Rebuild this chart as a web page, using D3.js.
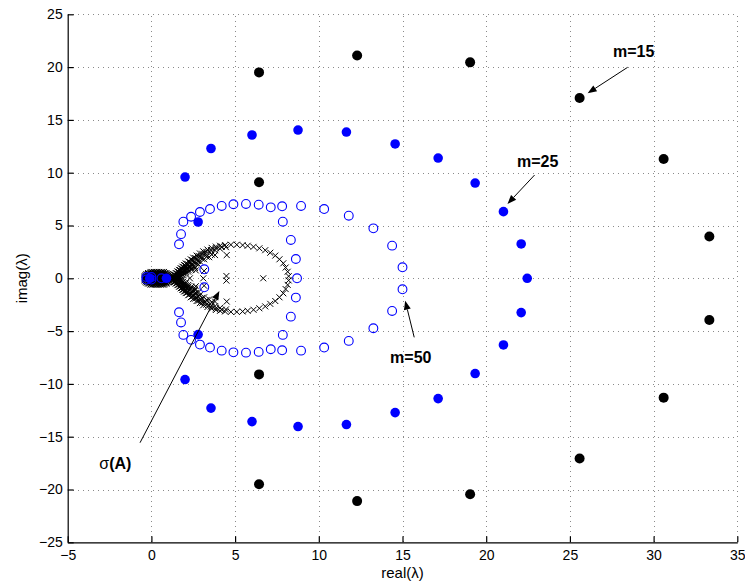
<!DOCTYPE html>
<html>
<head>
<meta charset="utf-8">
<script src="https://cdn.jsdelivr.net/npm/d3@7"></script>
<style>
  html, body { margin: 0; padding: 0; background: #fff; }
  svg { display: block; font-family: "Liberation Sans", Arial, Helvetica, sans-serif; }
</style>
</head>
<body>
<svg id="chart" width="745" height="584"></svg>
<script>
// Axis ticks
const xTicks = [-5, 0, 5, 10, 15, 20, 25, 30, 35];
const yTicks = [-25, -20, -15, -10, -5, 0, 5, 10, 15, 20, 25];

// A is real, so its eigenvalues and Ritz values come in conjugate pairs:
// each value below (Im >= 0) is drawn together with its conjugate.

// Ritz values, m = 15 (black dots)
const ritz15Re = [6.43, 12.29, 19.04, 25.58, 30.60, 33.33, 6.43, 0.30];
const ritz15Im = [19.50, 21.10, 20.45, 17.07, 11.30, 3.95, 9.10, 0.00];

// Ritz values, m = 25 (blue dots)
const ritz25Re = [2.01, 3.56, 6.01, 8.76, 11.65, 14.56, 17.13, 19.34, 21.03, 22.09, 22.45, 2.79, -0.10, 0.90];
const ritz25Im = [9.59, 12.29, 13.57, 14.04, 13.85, 12.72, 11.39, 9.02, 6.31, 3.25, 0.00, 5.33, 0.00, 0.00];

// Ritz values, m = 50 (blue circles)
const ritz50Re = [1.91, 1.77, 1.65, 2.37, 2.90, 3.50, 4.20, 4.90, 5.65, 6.41, 7.13, 7.81, 7.85, 8.33, 8.63, 8.70,
                  8.94, 10.32, 11.79, 13.26, 14.38, 15.00, 3.16, -0.30, 0.00, 0.60];
const ritz50Im = [5.36, 4.18, 3.22, 5.83, 6.28, 6.56, 6.85, 7.01, 7.04, 6.97, 6.72, 6.82, 5.36, 3.63, 1.83, 0.00,
                  6.85, 6.56, 5.93, 4.73, 3.09, 1.04, 0.85, 0.12, 0.12, 0.00];

// Spectrum of A (crosses)
const sigmaRe = [
  // outer boundary
  1.25, 1.35, 1.45, 1.55, 1.65, 1.75, 1.85, 1.95, 2.05, 2.20, 2.35, 2.50, 2.70, 2.90, 3.10, 3.35, 3.60,
  3.85, 4.10, 4.40, 4.75, 5.10, 5.45, 5.75, 6.10, 6.45, 6.80, 7.10, 7.40, 7.65, 7.88, 8.02, 8.14, 8.20,
  // inner branches near the cusp
  1.32, 1.42, 1.52, 1.62, 1.72, 1.82, 1.92, 2.02, 2.14, 2.28, 2.44, 2.62, 2.82, 3.04, 3.28, 3.55, 3.85, 4.20,
  1.35, 1.45, 1.55, 1.65, 1.75, 1.85, 1.95, 2.07, 2.20, 2.35, 2.52, 2.72, 2.95, 3.20, 3.50, 3.80, 4.10, 4.45,
  1.45, 1.55, 1.65, 1.75, 1.85, 1.96, 2.08, 2.22, 2.38, 2.57, 2.78, 3.02, 3.30, 3.60,
  1.50, 1.60, 1.70, 1.80, 1.90, 2.02, 2.15, 2.30, 2.47, 2.67, 2.90, 3.15, 3.45, 3.80,
  1.58, 1.69, 1.80, 1.92, 2.06, 2.22, 2.40, 2.60, 2.82,
  1.65, 1.78, 1.90, 2.05, 2.20, 2.38, 2.60,
  // isolated interior eigenvalues
  2.30, 2.65, 3.10, 3.15, 4.48, 4.50, 6.68,
  // cluster at the origin
  -0.40, -0.30, -0.20, -0.10, 0.00, 0.10, 0.20, 0.30, 0.40, 0.50, 0.60, 0.70, 0.80, 0.90, 1.00, 1.10,
  -0.40, -0.30, -0.20, -0.10, 0.00, 0.10, 0.20, 0.30, 0.40, 0.50, 0.60, 0.70, 0.80, 0.90, 1.00, 1.10,
  -0.40, -0.30, -0.20, -0.10, 0.00, 0.10, 0.20, 0.30, 0.40, 0.50, 0.60, 0.70, 0.80, 0.90, 1.00, 1.10,
  -0.35, -0.25, -0.15, -0.05, 0.05, 0.15, 0.25, 0.35, 0.45, 0.55, 0.65, 0.75, 0.85, 0.95, 1.05,
  -0.30, -0.20, -0.10, 0.00, 0.10, 0.20, 0.30, 0.40, 0.50, 0.60, 0.70, 0.80, 0.90, 1.00,
  -0.20, -0.10, 0.00, 0.10, 0.20, 0.30, 0.40, 0.50, 0.60, 0.70, 0.80, 0.90,
  -0.05, 0.05, 0.15, 0.25, 0.35, 0.45, 0.55, 0.65, 0.75
];
const sigmaIm = [
  0.15, 0.35, 0.50, 0.65, 0.80, 0.95, 1.10, 1.25, 1.40, 1.60, 1.80, 1.95, 2.15, 2.35, 2.55, 2.72, 2.88,
  3.00, 3.08, 3.14, 3.18, 3.18, 3.14, 3.08, 2.98, 2.84, 2.66, 2.42, 2.15, 1.80, 1.42, 1.02, 0.62, 0.20,
  0.18, 0.33, 0.47, 0.62, 0.77, 0.92, 1.07, 1.22, 1.37, 1.55, 1.73, 1.92, 2.12, 2.32, 2.50, 2.68, 2.84, 2.98,
  0.10, 0.25, 0.40, 0.55, 0.70, 0.85, 1.00, 1.15, 1.30, 1.47, 1.65, 1.85, 2.05, 2.25, 2.45, 2.65, 2.80, 2.95,
  0.08, 0.22, 0.37, 0.51, 0.66, 0.81, 0.96, 1.11, 1.28, 1.46, 1.65, 1.85, 2.05, 2.25,
  0.08, 0.20, 0.33, 0.46, 0.60, 0.75, 0.90, 1.05, 1.22, 1.40, 1.60, 1.80, 2.00, 2.20,
  0.06, 0.19, 0.32, 0.47, 0.62, 0.78, 0.94, 1.12, 1.30,
  0.05, 0.18, 0.32, 0.48, 0.63, 0.80, 0.98,
  0.00, 0.75, 0.00, 0.70, 0.22, 2.20, 0.00,
  0.00, 0.00, 0.00, 0.00, 0.00, 0.00, 0.00, 0.00, 0.00, 0.00, 0.00, 0.00, 0.00, 0.00, 0.00, 0.00,
  0.10, 0.10, 0.10, 0.10, 0.10, 0.10, 0.10, 0.10, 0.10, 0.10, 0.10, 0.10, 0.10, 0.10, 0.10, 0.10,
  0.20, 0.20, 0.20, 0.20, 0.20, 0.20, 0.20, 0.20, 0.20, 0.20, 0.20, 0.20, 0.20, 0.20, 0.20, 0.20,
  0.30, 0.30, 0.30, 0.30, 0.30, 0.30, 0.30, 0.30, 0.30, 0.30, 0.30, 0.30, 0.30, 0.30, 0.30,
  0.40, 0.40, 0.40, 0.40, 0.40, 0.40, 0.40, 0.40, 0.40, 0.40, 0.40, 0.40, 0.40, 0.40,
  0.50, 0.50, 0.50, 0.50, 0.50, 0.50, 0.50, 0.50, 0.50, 0.50, 0.50, 0.50,
  0.60, 0.60, 0.60, 0.60, 0.60, 0.60, 0.60, 0.60, 0.60
];

// Annotation labels and arrows (data coordinates)
const notes = [
  { text: "m=15", tx: 27.57, ty: 20.98, from: [28.45, 19.98], to: [26.06, 17.52] },
  { text: "m=25", tx: 21.84, ty: 10.57, from: [22.89, 9.78],  to: [21.27, 7.04] },
  { text: "m=50", tx: 14.26, ty: -7.99, from: [15.70, -5.59], to: [15.16, -2.12] },
  { text: "σ(A)", tx: -3.11, ty: -18.09, from: [-0.68, -15.57], to: [4.06, -1.20] }
];

const svg = d3.select("#chart");
const x = d3.scaleLinear().domain([-5, 35]).range([67.7, 737.3]);
const y = d3.scaleLinear().domain([-25, 25]).range([542.3, 14.3]);

function withConjugates(re, im) {
  const pts = [];
  re.forEach((r, i) => {
    pts.push([r, im[i]]);
    if (im[i] !== 0) pts.push([r, -im[i]]);
  });
  return pts;
}

// grid
const grid = svg.append("g").attr("stroke", "#8a8a8a").attr("stroke-width", 1)
  .attr("stroke-dasharray", "1,4").attr("shape-rendering", "crispEdges");
grid.selectAll(".gx").data(xTicks.slice(1)).join("line")
  .attr("x1", d => Math.round(x(d)) + 0.5).attr("x2", d => Math.round(x(d)) + 0.5)
  .attr("y1", y(-25)).attr("y2", y(25));
grid.selectAll(".gy").data(yTicks.slice(1)).join("line")
  .attr("y1", d => Math.round(y(d)) + 0.5).attr("y2", d => Math.round(y(d)) + 0.5)
  .attr("x1", x(-5)).attr("x2", x(35));

// axes
const fontSize = 14;
const xAxis = svg.append("g").attr("transform", `translate(0,${y(-25)})`)
  .call(d3.axisBottom(x).tickValues(xTicks).tickSizeInner(-6).tickSizeOuter(0).tickPadding(8));
const yAxis = svg.append("g").attr("transform", `translate(${x(-5)},0)`)
  .call(d3.axisLeft(y).tickValues(yTicks).tickSizeInner(-6).tickSizeOuter(0).tickPadding(5));
[xAxis, yAxis].forEach(a => {
  a.attr("font-family", null).attr("font-size", fontSize);
  a.selectAll("text").attr("fill", "#000");
  a.selectAll("line, path").attr("stroke", "#000").attr("stroke-width", 1.2);
});
xAxis.selectAll("text").attr("dy", "0.71em");

// axis titles
svg.append("text").attr("x", (x(-5) + x(35)) / 2).attr("y", 578)
  .attr("text-anchor", "middle").attr("font-size", 15).text("real(λ)");
svg.append("text").attr("transform", `translate(27,${y(0)}) rotate(-90)`)
  .attr("text-anchor", "middle").attr("font-size", 15).text("imag(λ)");

const plot = svg.append("g");

// spectrum of A: crosses
const cs = 3;
plot.append("g").attr("stroke", "#000").attr("stroke-width", 1).attr("fill", "none")
  .selectAll("path").data(withConjugates(sigmaRe, sigmaIm)).join("path")
  .attr("d", d => {
    const px = x(d[0]), py = y(d[1]);
    return `M${px - cs},${py - cs}L${px + cs},${py + cs}M${px - cs},${py + cs}L${px + cs},${py - cs}`;
  });

// m = 15
plot.append("g").attr("fill", "#000")
  .selectAll("circle").data(withConjugates(ritz15Re, ritz15Im)).join("circle")
  .attr("cx", d => x(d[0])).attr("cy", d => y(d[1])).attr("r", 5);

// m = 25
plot.append("g").attr("fill", "#0000ff")
  .selectAll("circle").data(withConjugates(ritz25Re, ritz25Im)).join("circle")
  .attr("cx", d => x(d[0])).attr("cy", d => y(d[1])).attr("r", 4.8);

// m = 50
plot.append("g").attr("fill", "none").attr("stroke", "#0000ff").attr("stroke-width", 1.1)
  .selectAll("circle").data(withConjugates(ritz50Re, ritz50Im)).join("circle")
  .attr("cx", d => x(d[0])).attr("cy", d => y(d[1])).attr("r", 4.4);

// annotations
const ann = svg.append("g");
notes.forEach(n => {
  const x1 = x(n.from[0]), y1 = y(n.from[1]), x2 = x(n.to[0]), y2 = y(n.to[1]);
  const ang = Math.atan2(y2 - y1, x2 - x1);
  const L = 9, W = 3.5;
  const bx = x2 - L * Math.cos(ang), by = y2 - L * Math.sin(ang);
  ann.append("line").attr("x1", x1).attr("y1", y1).attr("x2", bx).attr("y2", by)
    .attr("stroke", "#000").attr("stroke-width", 1);
  ann.append("path")
    .attr("d", `M${x2},${y2}L${bx - W * Math.sin(ang)},${by + W * Math.cos(ang)}L${bx + W * Math.sin(ang)},${by - W * Math.cos(ang)}Z`)
    .attr("fill", "#000");
  const t = ann.append("text").attr("x", x(n.tx)).attr("y", y(n.ty)).attr("font-size", 16);
  if (n.text.startsWith("σ")) {
    t.append("tspan").attr("font-weight", "normal").text("σ");
    t.append("tspan").attr("font-weight", "bold").text(n.text.slice(1));
  } else {
    t.attr("font-weight", "bold").text(n.text);
  }
});
</script>
</body>
</html>
